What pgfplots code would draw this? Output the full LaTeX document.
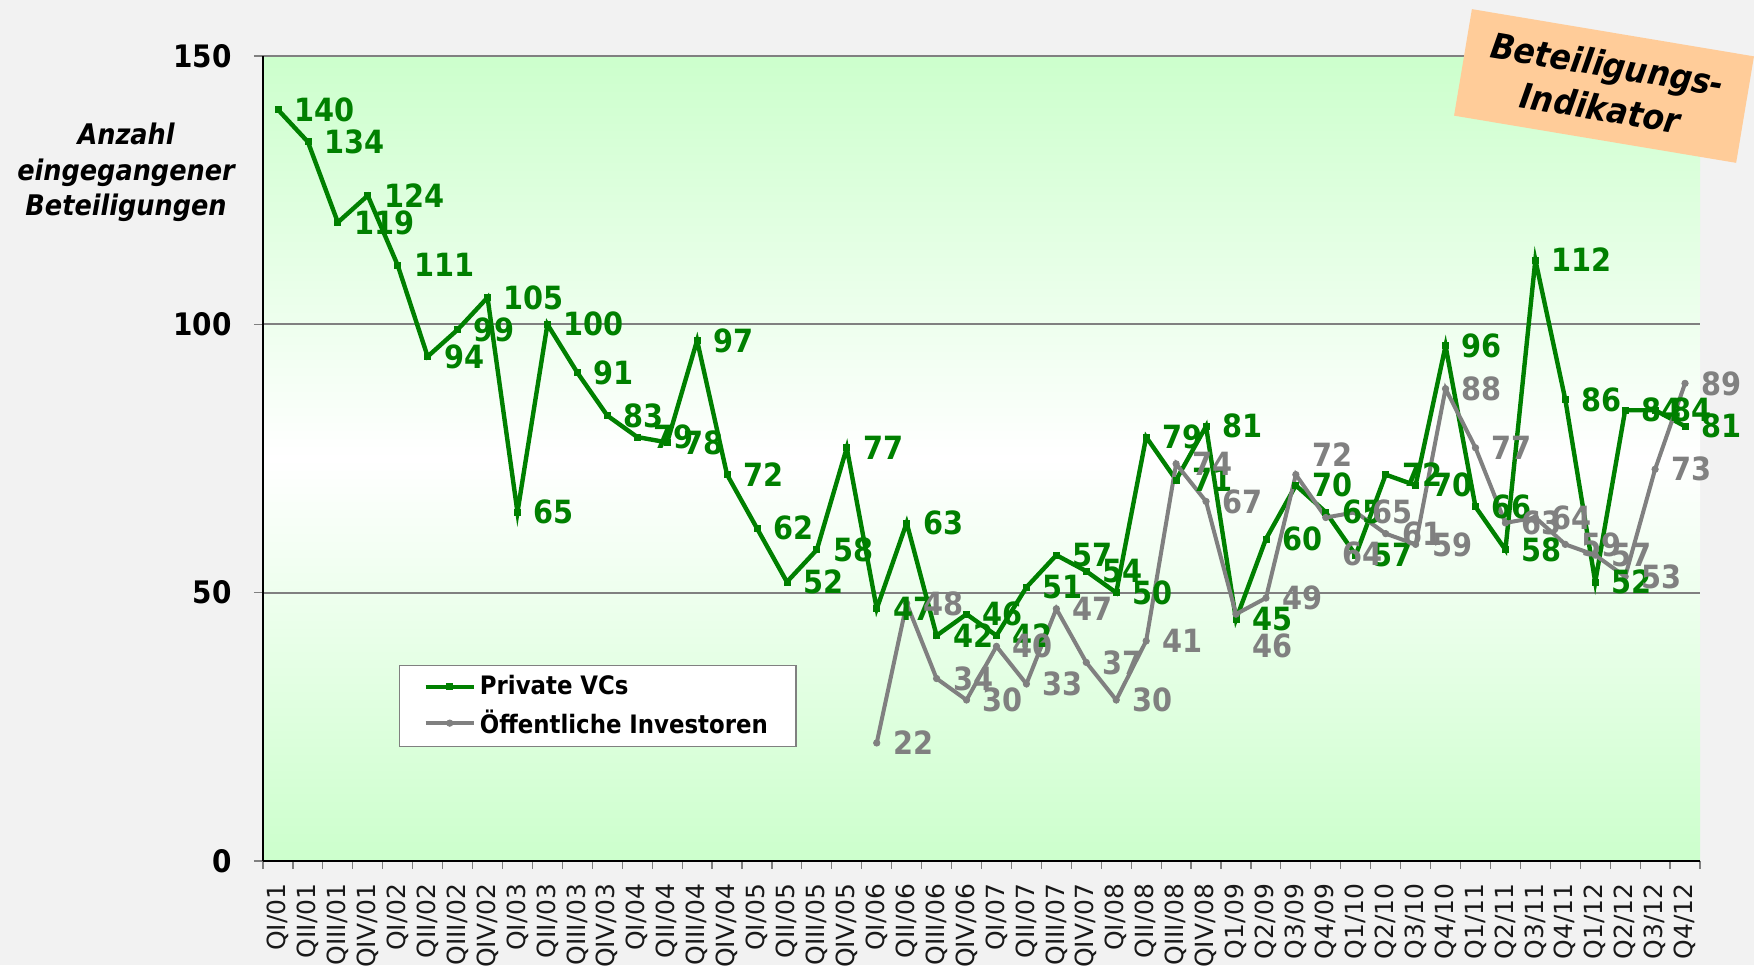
\documentclass[border=0pt]{standalone}
\usepackage{pgfplots}
\pgfplotsset{compat=1.18}
\usepackage{pgfplotstable}
\usepackage{fontspec}
\setmainfont{DejaVu Sans}
\newfontfamily\cond{DejaVu Sans Condensed}
\definecolor{vcgreen}{HTML}{008000}
\definecolor{oigray}{HTML}{808080}
\definecolor{bgc}{HTML}{F2F2F2}
\definecolor{plotgreen}{HTML}{CCFFCC}
\definecolor{peach}{HTML}{FFCC99}

\pgfplotstableread{
x y
0 140
1 134
2 119
3 124
4 111
5 94
6 99
7 105
8 65
9 100
10 91
11 83
12 79
13 78
14 97
15 72
16 62
17 52
18 58
19 77
20 47
21 63
22 42
23 46
24 42
25 51
26 57
27 54
28 50
29 79
30 71
31 81
32 45
33 60
34 70
35 65
36 57
37 72
38 70
39 96
40 66
41 58
42 112
43 86
44 52
45 84
46 84
47 81
}\vcdata

\pgfplotstableread{
x y dy
20 22 0
21 48 0
22 34 0
23 30 0
24 40 0
25 33 0
26 47 0
27 37 0
28 30 0
29 41 0
30 74 0
31 67 0
32 46 -16
33 49 0
34 72 10
35 64 -18
36 65 0
37 61 0
38 59 0
39 88 0
40 77 0
41 63 0
42 64 0
43 59 0
44 57 0
45 53 0
46 73 0
47 89 0
}\oidata

\begin{document}
\begin{tikzpicture}
\fill[bgc] (-131.5pt,-52pt) rectangle (745.5pt,430.5pt);
\begin{axis}[
  at={(0,0)}, anchor=south west,
  scale only axis, width=718.5pt, height=402.5pt,
  xmin=-0.5, xmax=47.5, ymin=0, ymax=150,
  clip=false,
  axis background/.style={top color=plotgreen, bottom color=plotgreen, middle color=white},
  axis x line*=bottom, axis y line*=left,
  axis line style={black, line width=0.7pt},
  tick align=outside,
  major tick length=4.5pt, minor tick length=4pt,
  xtick={0,...,47},
  xticklabels={QI/01,QII/01,QIII/01,QIV/01,QI/02,QII/02,QIII/02,QIV/02,QI/03,QII/03,QIII/03,QIV/03,QI/04,QII/04,QIII/04,QIV/04,QI/05,QII/05,QIII/05,QIV/05,QI/06,QII/06,QIII/06,QIV/06,QI/07,QII/07,QIII/07,QIV/07,QI/08,QII/08,QIII/08,QIV/08,Q1/09,Q2/09,Q3/09,Q4/09,Q1/10,Q2/10,Q3/10,Q4/10,Q1/11,Q2/11,Q3/11,Q4/11,Q1/12,Q2/12,Q3/12,Q4/12},
  major x tick style={draw=none},
  minor xtick={-0.5,0.5,...,47.5},
  minor x tick style={oigray, line width=0.6pt},
  major y tick style={oigray, line width=0.6pt},
  xticklabel style={rotate=90, anchor=east, inner sep=0pt, xshift=-6.5pt, text=black!90, font=\fontsize{12.5}{12.5}\selectfont},
  ytick={0,50,100,150},
  yticklabel style={anchor=east, inner sep=0pt, xshift=-11pt, font=\cond\bfseries\fontsize{15.5}{15.5}\selectfont},
  /pgf/number format/assume math mode=true,
  ymajorgrids,
  grid style={oigray, line width=1pt},
  ylabel={Anzahl\\eingegangener\\Beteiligungen},
  ylabel style={rotate=-90, at={(axis description cs:-0.0953,0.8553)}, anchor=center, align=center, font=\cond\bfseries\itshape\fontsize{14.2}{17.75}\selectfont},
  legend style={at={(axis description cs:0.0946,0.1416)}, anchor=south west, draw=oigray, line width=0.6pt, fill=white,
    font=\cond\bfseries\fontsize{12.7}{14}\selectfont, inner xsep=12pt, inner ysep=3pt, row sep=2pt,
    nodes={inner sep=2pt}},
  legend cell align=left,
  legend image code/.code={\draw[mark repeat=2, mark phase=2] plot coordinates {(0pt,0pt) (12pt,0pt) (24pt,0pt)};},
]
\addplot[vcgreen, line width=2.2pt, mark=square*, mark size=1.5pt, mark options={line width=0.4pt}] table[x=x,y=y]{\vcdata};
\addlegendentry{Private VCs}
\addplot[oigray, line width=2pt, mark=*, mark size=1.6pt, mark options={line width=0.4pt}] table[x=x,y=y]{\oidata};
\addlegendentry{Öffentliche Investoren}
\addplot[forget plot, draw=none, mark=none, point meta=y, nodes near coords,
  every node near coord/.append style={anchor=west, inner sep=0pt, xshift=8pt, text=vcgreen, font=\cond\bfseries\fontsize{16}{16}\selectfont}]
  table[x=x,y=y]{\vcdata};
\addplot[forget plot, draw=none, mark=none, point meta=y, nodes near coords,
  visualization depends on={\thisrow{dy} \as \dy},
  every node near coord/.append style={anchor=west, inner sep=0pt, xshift=8pt, yshift=\dy, text=oigray, font=\cond\bfseries\fontsize{16}{16}\selectfont}]
  table[x=x,y=y]{\oidata};
\end{axis}
\node[rotate=-9.5, fill=peach, minimum width=143pt, minimum height=54pt, align=center, inner sep=0pt,
  font=\cond\bfseries\itshape\fontsize{17.5}{22}\selectfont] at (670.5pt,387.5pt) {Beteiligungs-\\Indikator};
\pgfresetboundingbox
\useasboundingbox (-131.5pt,-52pt) rectangle (745.5pt,430.5pt);
\end{tikzpicture}
\end{document}
